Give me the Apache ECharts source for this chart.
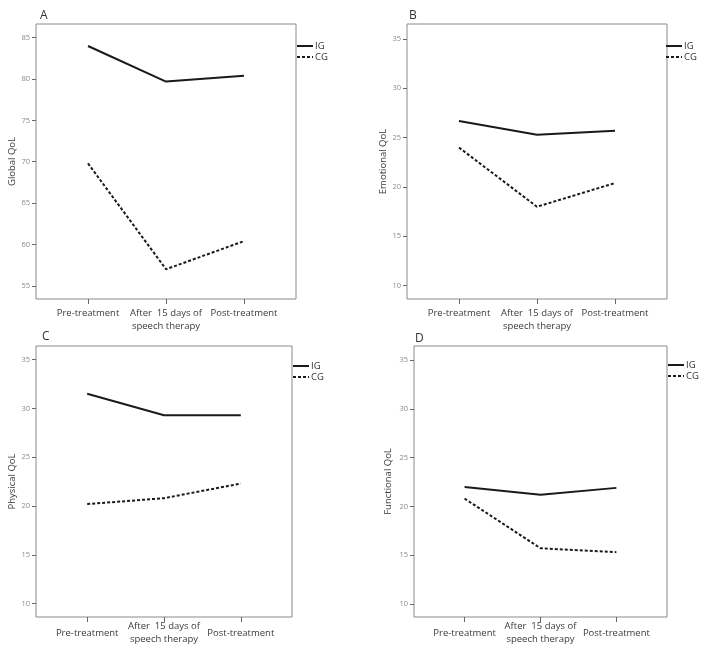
<!DOCTYPE html>
<html>
<head>
<meta charset="utf-8">
<script src="https://cdn.jsdelivr.net/npm/echarts@6/dist/echarts.min.js"></script>
<style>
html,body{margin:0;padding:0;background:#fff;}
#chart{width:707px;height:653px;}
</style>
</head>
<body>
<div id="chart"></div>
<script>
const categories = ['Pre-treatment', 'After  15 days of\nspeech therapy', 'Post-treatment'];
const panelLetters = ['A', 'B', 'C', 'D'];
const axisNames = ['Global QoL', 'Emotional QoL', 'Physical QoL', 'Functional QoL'];
const yTicksA = [55, 60, 65, 70, 75, 80, 85];
const yTicksBCD = [10, 15, 20, 25, 30, 35];

const globalIG = [84.0, 79.7, 80.4];
const globalCG = [69.8, 57.0, 60.4];
const emotionalIG = [26.7, 25.3, 25.7];
const emotionalCG = [24.0, 18.0, 20.4];
const physicalIG = [31.5, 29.3, 29.3];
const physicalCG = [20.2, 20.8, 22.3];
const functionalIG = [22.0, 21.2, 21.9];
const functionalCG = [20.8, 15.7, 15.3];

const igSets = [globalIG, emotionalIG, physicalIG, functionalIG];
const cgSets = [globalCG, emotionalCG, physicalCG, functionalCG];

const FONT = '"Open Sans", "DejaVu Sans", sans-serif';

const layout = [
  {left: 36, top: 24, width: 260, height: 275, ymin: 53.4, ymax: 86.66, ticks: yTicksA, nameGap: 19, vAlign: 'top', margin: 8, titleL: 40, titleT: 10, legL: 296, legT: 41},
  {left: 407, top: 24, width: 260, height: 275, ymin: 8.65, ymax: 36.52, ticks: yTicksBCD, nameGap: 18, vAlign: 'top', margin: 8, titleL: 409, titleT: 10, legL: 665, legT: 41},
  {left: 36, top: 346, width: 256, height: 271, ymin: 8.63, ymax: 36.39, ticks: yTicksBCD, nameGap: 19, vAlign: 'middle', margin: 16, titleL: 42, titleT: 331, legL: 292, legT: 361},
  {left: 414, top: 346, width: 253, height: 271, ymin: 8.64, ymax: 36.47, ticks: yTicksBCD, nameGap: 21, vAlign: 'middle', margin: 16, titleL: 415, titleT: 333, legL: 667, legT: 360}
];

const grid = [], xAxis = [], yAxis = [], series = [], title = [], legend = [];
layout.forEach((p, i) => {
  grid.push({left: p.left, top: p.top, width: p.width, height: p.height, show: true,
    borderColor: '#8a8a8a', borderWidth: 1, backgroundColor: 'transparent', containLabel: false});
  xAxis.push({type: 'value', gridIndex: i, min: -2/3, max: 8/3, position: 'bottom',
    splitLine: {show: false},
    axisLine: {show: false, onZero: false},
    axisTick: {show: true, inside: false, length: 5, customValues: [0, 1, 2], lineStyle: {color: '#666'}},
    axisLabel: {show: true, customValues: [0, 1, 2], margin: p.margin, verticalAlign: p.vAlign,
      color: '#3a3a3a', fontSize: 9.5, fontFamily: FONT, lineHeight: 13,
      formatter: v => categories[Math.round(v)]}
  });
  yAxis.push({type: 'value', gridIndex: i, min: p.ymin, max: p.ymax, position: 'left',
    name: axisNames[i], nameLocation: 'middle', nameRotate: 90, nameGap: p.nameGap,
    nameTextStyle: {color: '#3a3a3a', fontSize: 9.5, fontFamily: FONT},
    splitLine: {show: false},
    axisLine: {show: false, onZero: false},
    axisTick: {show: true, length: 4, customValues: p.ticks, lineStyle: {color: '#666'}},
    axisLabel: {show: true, customValues: p.ticks, margin: 6, color: '#8a8a8a', fontSize: 7.5, fontFamily: FONT}
  });
  title.push({text: panelLetters[i], left: p.titleL, top: p.titleT, padding: 0,
    textStyle: {fontSize: 12, fontWeight: 'normal', color: '#333', fontFamily: FONT}});
  legend.push({orient: 'vertical', left: p.legL, top: p.legT, padding: 0, itemGap: 1,
    itemWidth: 16, itemHeight: 10, selectedMode: false,
    data: ['IG', 'CG'],
    itemStyle: {opacity: 0},
    textStyle: {fontSize: 9.5, color: '#333', fontFamily: FONT, padding: [0, 0, 0, -3]}});
  series.push({name: 'IG', type: 'line', xAxisIndex: i, yAxisIndex: i,
    data: igSets[i].map((v, k) => [k, v]), symbol: 'none', silent: true,
    lineStyle: {color: '#1a1a1a', width: 2, type: 'solid'}, itemStyle: {color: '#1a1a1a'}});
  series.push({name: 'CG', type: 'line', xAxisIndex: i, yAxisIndex: i,
    data: cgSets[i].map((v, k) => [k, v]), symbol: 'none', silent: true,
    lineStyle: {color: '#1a1a1a', width: 2, type: [3, 2]}, itemStyle: {color: '#1a1a1a'}});
});

const chart = echarts.init(document.getElementById('chart'), null, {renderer: 'canvas'});
chart.setOption({animation: false, backgroundColor: '#fff', title, legend, grid, xAxis, yAxis, series});
</script>
</body>
</html>
